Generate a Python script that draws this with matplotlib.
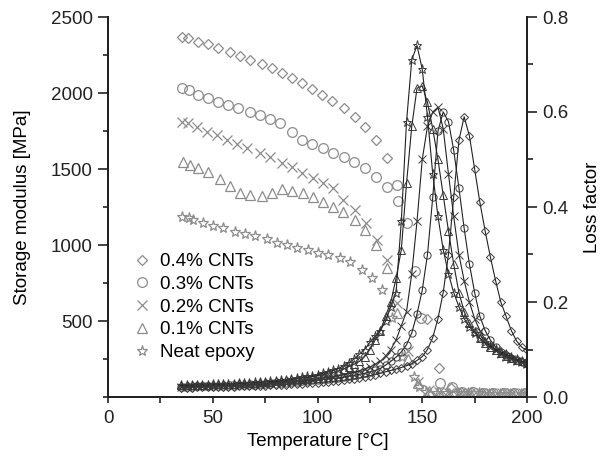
import matplotlib
matplotlib.use("Agg")
import matplotlib.pyplot as plt
from matplotlib.ticker import MultipleLocator, FixedLocator

plt.rcParams['font.family'] = ['Liberation Sans', 'DejaVu Sans']

labels = ["0.4% CNTs", "0.3% CNTs", "0.2% CNTs", "0.1% CNTs", "Neat epoxy"]
markers = ["D", "o", "x", "^", "*"]

# ---- Storage modulus (MPa) ----
s04_T = [35.2, 38.3, 43.1, 47.9, 52.7, 58.2, 63.0, 67.8, 73.4, 78.2, 82.9, 87.7, 92.5, 97.3,
         102.1, 106.9, 112.6, 117.8, 122.6, 127.9, 133.2, 152.5, 158.0, 163.5, 168.5, 173.5,
         178.5, 183.5, 188.5, 193.5, 198.5]
s04_E = [2370, 2360, 2337, 2322, 2294, 2272, 2243, 2217, 2189, 2162, 2130, 2097, 2066, 2026,
         1987, 1947, 1901, 1842, 1776, 1691, 1572, 510, 190, 60, 35, 30, 28, 27, 26, 25, 25]

s03_T = [35.2, 38.8, 43.1, 47.9, 52.6, 57.4, 62.2, 67.8, 72.6, 77.3, 82.1, 87.7, 92.5, 97.2,
         102.5, 107.5, 112.6, 117.4, 122.7, 127.9, 133.0, 137.8, 138.3, 142.5, 146.5, 149.5,
         158.5, 164.0, 169.0, 174.0, 179.0, 184.0, 189.0, 194.0, 199.0]
s03_E = [2031, 2020, 1987, 1965, 1943, 1921, 1899, 1877, 1855, 1827, 1801, 1743, 1691, 1664,
         1636, 1607, 1577, 1548, 1505, 1450, 1380, 1395, 1290, 1142, 830, 520,
         92, 68, 36, 30, 28, 27, 26, 26, 25]

s02_T = [35.2, 38.3, 42.3, 47.1, 51.9, 56.7, 61.4, 66.2, 72.6, 77.3, 82.9, 87.7, 92.5, 98.0,
         102.8, 107.5, 112.3, 117.9, 123.2, 128.3, 133.0, 138.0, 143.0, 148.0, 153.0, 158.0,
         163.0, 168.0, 173.0, 178.0, 183.0, 188.0, 193.0, 198.0]
s02_E = [1811, 1801, 1774, 1745, 1724, 1691, 1664, 1636, 1603, 1577, 1541, 1515, 1472, 1439,
         1410, 1373, 1296, 1230, 1143, 1033, 901, 620, 300, 100, 45, 32, 28, 27, 26, 25, 25,
         24, 24, 24]

s01_T = [35.9, 39.1, 43.1, 47.9, 53.5, 58.2, 63.0, 67.8, 73.4, 78.2, 82.9, 87.7, 93.2, 98.0,
         102.8, 107.5, 112.3, 117.9, 122.7, 127.9, 133.0, 138.0, 143.0, 148.0, 153.0, 158.0,
         163.0, 168.0, 173.0, 178.0, 183.0, 188.0, 193.0, 198.0]
s01_E = [1548, 1526, 1505, 1482, 1432, 1388, 1344, 1329, 1322, 1340, 1366, 1357, 1340, 1314,
         1285, 1252, 1219, 1165, 1099, 1000, 849, 550, 250, 90, 40, 30, 27, 26, 25, 25, 24,
         24, 23, 23]

s00_T = [35.2, 38.5, 40.7, 45.5, 50.3, 55.0, 60.6, 65.4, 70.2, 75.8, 80.5, 85.3, 90.1, 95.6,
         100.4, 105.2, 110.7, 115.5, 121.1, 125.9, 130.6, 135.5, 140.5, 146.0, 148.5, 152.0,
         157.0, 162.0, 167.0, 172.0, 177.0, 182.0, 187.0, 192.0, 197.0]
s00_E = [1186, 1175, 1164, 1143, 1125, 1110, 1088, 1072, 1059, 1038, 1015, 1000, 982, 967,
         948, 934, 912, 890, 836, 781, 704, 520, 260, 134, 68, 35, 28, 26, 25, 24, 24, 23,
         23, 22, 22]

# ---- Loss factor ----
loss_T = [35, 37.5, 40, 42.5, 45, 47.5, 50, 52.5, 55, 57.5, 60, 62.5, 65, 67.5, 70, 72.5, 75,
          77.5, 80, 82.5, 85, 87.5, 90, 92.5, 95, 97.5, 100, 102.5, 105, 107.5, 110, 112.5,
          115, 117.5, 120, 122.5, 125, 127.5, 130, 132.5, 135, 137.5, 140, 142.5, 145, 147.5,
          150, 152.5, 155, 157.5, 160, 162.5, 165, 167.5, 170, 172.5, 175, 177.5, 180, 182.5,
          185, 187.5, 190, 192.5, 195, 197.5, 200]

l04 = [0.020, 0.020, 0.020, 0.021, 0.021, 0.021, 0.021, 0.022, 0.022, 0.022, 0.022, 0.023,
       0.023, 0.023, 0.023, 0.024, 0.024, 0.025, 0.025, 0.026, 0.026, 0.027, 0.027, 0.028,
       0.029, 0.029, 0.030, 0.031, 0.032, 0.033, 0.034, 0.035, 0.037, 0.038, 0.040, 0.042,
       0.045, 0.047, 0.050, 0.053, 0.056, 0.059, 0.062, 0.066, 0.070, 0.077, 0.085, 0.100,
       0.125, 0.165, 0.220, 0.300, 0.420, 0.540, 0.590, 0.550, 0.480, 0.410, 0.350, 0.295,
       0.245, 0.200, 0.170, 0.140, 0.118, 0.105, 0.098]
l03 = [0.022, 0.022, 0.022, 0.023, 0.023, 0.023, 0.023, 0.024, 0.024, 0.024, 0.024, 0.025,
       0.025, 0.026, 0.026, 0.027, 0.027, 0.028, 0.028, 0.029, 0.030, 0.031, 0.032, 0.033,
       0.034, 0.035, 0.035, 0.037, 0.038, 0.039, 0.040, 0.042, 0.044, 0.046, 0.048, 0.050,
       0.053, 0.056, 0.060, 0.067, 0.075, 0.084, 0.095, 0.110, 0.135, 0.175, 0.225, 0.300,
       0.420, 0.560, 0.600, 0.580, 0.520, 0.440, 0.355, 0.280, 0.220, 0.170, 0.140, 0.120,
       0.105, 0.095, 0.088, 0.082, 0.078, 0.074, 0.071]
l02 = [0.022, 0.022, 0.023, 0.023, 0.023, 0.023, 0.024, 0.024, 0.024, 0.025, 0.025, 0.025,
       0.026, 0.026, 0.027, 0.027, 0.028, 0.029, 0.030, 0.031, 0.032, 0.033, 0.034, 0.035,
       0.036, 0.037, 0.038, 0.040, 0.042, 0.043, 0.045, 0.047, 0.050, 0.052, 0.055, 0.059,
       0.063, 0.069, 0.075, 0.086, 0.100, 0.120, 0.150, 0.180, 0.260, 0.370, 0.500, 0.570,
       0.600, 0.610, 0.565, 0.470, 0.380, 0.300, 0.245, 0.200, 0.165, 0.140, 0.120, 0.108,
       0.098, 0.090, 0.085, 0.080, 0.076, 0.073, 0.070]
l01 = [0.025, 0.025, 0.025, 0.026, 0.026, 0.026, 0.027, 0.027, 0.027, 0.028, 0.028, 0.029,
       0.029, 0.030, 0.030, 0.031, 0.032, 0.032, 0.033, 0.034, 0.035, 0.037, 0.038, 0.040,
       0.041, 0.043, 0.045, 0.047, 0.050, 0.052, 0.055, 0.059, 0.064, 0.069, 0.075, 0.085,
       0.100, 0.120, 0.140, 0.170, 0.200, 0.250, 0.310, 0.450, 0.570, 0.650, 0.655, 0.620,
       0.565, 0.500, 0.425, 0.350, 0.280, 0.220, 0.180, 0.155, 0.138, 0.124, 0.113, 0.105,
       0.098, 0.092, 0.087, 0.082, 0.078, 0.075, 0.072]
l00 = [0.025, 0.025, 0.025, 0.026, 0.026, 0.026, 0.027, 0.027, 0.027, 0.028, 0.028, 0.029,
       0.029, 0.030, 0.031, 0.031, 0.032, 0.033, 0.034, 0.035, 0.036, 0.038, 0.040, 0.042,
       0.044, 0.045, 0.047, 0.050, 0.053, 0.056, 0.060, 0.066, 0.072, 0.080, 0.090, 0.100,
       0.115, 0.128, 0.140, 0.160, 0.190, 0.220, 0.370, 0.580, 0.710, 0.740, 0.690, 0.590,
       0.470, 0.380, 0.310, 0.260, 0.220, 0.190, 0.165, 0.148, 0.135, 0.124, 0.115, 0.108,
       0.101, 0.095, 0.090, 0.085, 0.080, 0.076, 0.072]

storage = [(s04_T, s04_E), (s03_T, s03_E), (s02_T, s02_E), (s01_T, s01_E), (s00_T, s00_E)]
loss = [l04, l03, l02, l01, l00]

fig = plt.figure(figsize=(6.02, 4.61), dpi=100)
ax = fig.add_axes([108/602, 1-397/461, (527-108)/602, (397-17)/461])
ax2 = ax.twinx()

gray = "#8c8c8c"
dark = "#3a3a3a"
msizes = [5.5, 7, 7, 6.5, 8]
lsizes = [4.2, 5.2, 5.5, 5.2, 6.5]

handles = []
for (T, E), m, lab, ms in zip(storage, markers, labels, msizes):
    h, = ax.plot(T, E, linestyle="none", marker=m, markersize=ms,
                 markerfacecolor="none", markeredgecolor=gray, markeredgewidth=0.9,
                 label=lab)
    handles.append(h)

for vals, m, ms in zip(loss, markers, lsizes):
    ax2.plot(loss_T, vals, linestyle="-", color="#222222", linewidth=0.8,
             marker=m, markersize=ms, markerfacecolor="none",
             markeredgecolor=dark, markeredgewidth=0.7)

ax.set_xlim(0, 200)
ax.set_ylim(0, 2500)
ax2.set_ylim(0, 0.8)

ax.xaxis.set_major_locator(MultipleLocator(50))
ax.xaxis.set_minor_locator(MultipleLocator(25))
ax.yaxis.set_major_locator(FixedLocator([500, 1000, 1500, 2000, 2500]))
ax.yaxis.set_minor_locator(MultipleLocator(250))
ax2.yaxis.set_major_locator(MultipleLocator(0.2))
ax2.yaxis.set_minor_locator(MultipleLocator(0.1))
ax2.yaxis.set_major_formatter(plt.FuncFormatter(lambda v, p: f"{v:.1f}"))

fs = 13.5
for a in (ax, ax2):
    a.tick_params(which="both", direction="out", width=1.2, colors="#222222",
                  labelsize=fs)
    for s in a.spines.values():
        s.set_linewidth(1.4)
        s.set_color("#222222")
    a.spines["top"].set_visible(False)
ax.tick_params(axis="y", which="major", length=7, pad=4)
ax.tick_params(axis="y", which="minor", length=3.5)
ax.tick_params(axis="x", which="major", length=4, pad=5)
ax.tick_params(axis="x", which="minor", length=4)
ax2.tick_params(axis="y", which="major", length=7, pad=4)
ax2.tick_params(axis="y", which="minor", length=4)

ax.set_xlabel("Temperature [°C]", fontsize=fs, labelpad=5)
ax.set_ylabel("Storage modulus [MPa]", fontsize=fs, labelpad=14)
ax2.set_ylabel("Loss factor", fontsize=fs, labelpad=11)

leg = ax.legend(handles=handles, loc="upper left", bbox_to_anchor=(133/602, 1-253/461),
                bbox_transform=fig.transFigure, frameon=False, fontsize=fs,
                handlelength=1.0, handletextpad=0.45, labelspacing=0.3, borderpad=0,
                borderaxespad=0)

fig.savefig("out.png", dpi=100)
